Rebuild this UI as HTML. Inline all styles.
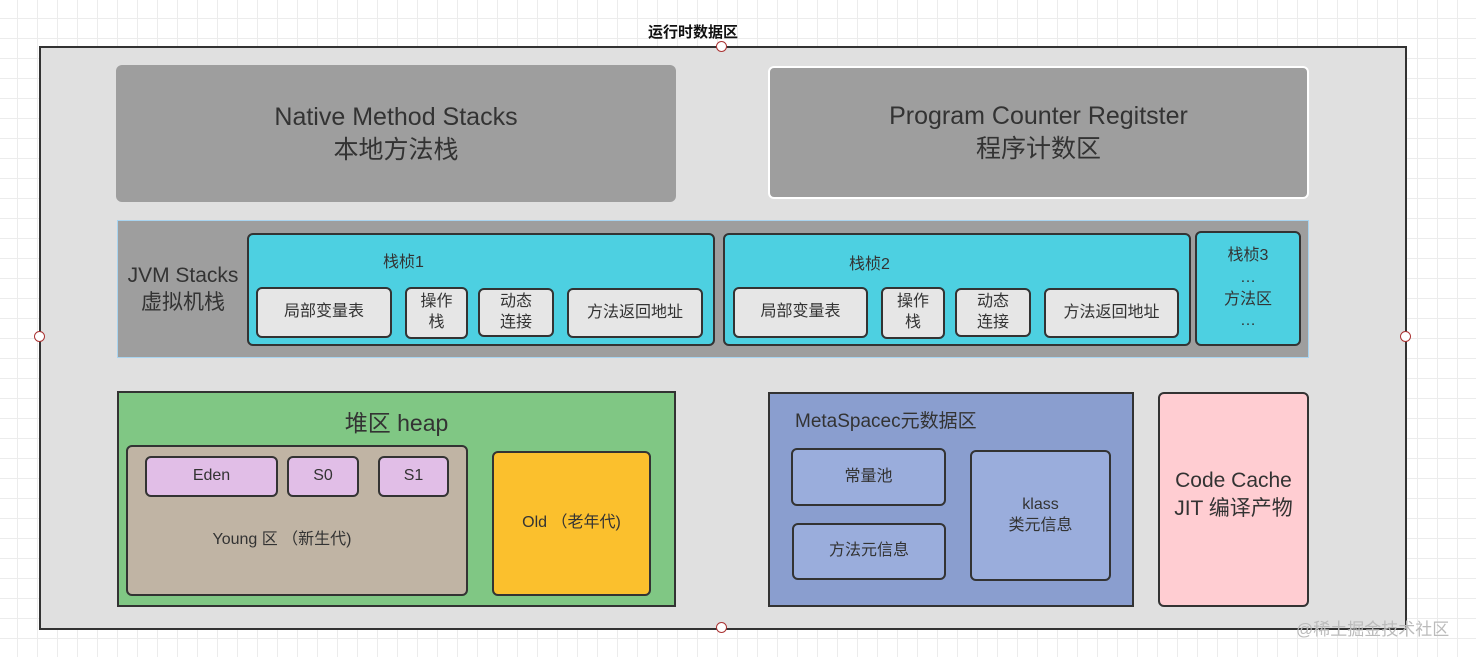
<!DOCTYPE html><html><head><meta charset="utf-8"><style>
body{margin:0;width:1476px;height:657px;overflow:hidden;font-family:"Liberation Sans","Noto Sans CJK SC",sans-serif;color:#333;
background-color:#fff;background-image:linear-gradient(#ececec 1px,transparent 1px),linear-gradient(90deg,#ececec 1px,transparent 1px);background-size:20px 20px;background-position:-3px -2px}
.a{position:absolute;box-sizing:border-box;display:flex;align-items:center;justify-content:center;text-align:center;line-height:1.3}
.b{border:2px solid #333;border-radius:6px}
.g{background:#e6e6e6;font-size:16px}
.c{position:absolute;width:11px;height:11px;border-radius:50%;background:#fff;border:1px solid #a33;box-sizing:border-box}
</style></head><body>
<div class="a" style="left:600px;top:22px;width:186px;height:22px;font-weight:bold;font-size:15px;color:#111">运行时数据区</div>
<div class="a" style="left:39px;top:46px;width:1368px;height:584px;background:#e0e0e0;border:2px solid #333"></div>
<div class="a" style="left:116px;top:65px;width:560px;height:137px;background:#9e9e9e;border-radius:6px;font-size:25px;color:#333">Native Method Stacks<br>本地方法栈</div>
<div class="a" style="left:768px;top:66px;width:541px;height:133px;background:#9e9e9e;border:2px solid #fff;border-radius:6px;font-size:25px;color:#333">Program Counter Regitster<br>程序计数区</div>
<div class="a" style="left:117px;top:220px;width:1192px;height:138px;background:#9e9e9e;border:1px solid #a8d4f0;justify-content:flex-start"><div style="width:130px;font-size:21px;text-align:center">JVM Stacks<br>虚拟机栈</div></div>
<div class="a b" style="left:247px;top:233px;width:468px;height:113px;background:#4dd0e1;align-items:flex-start;padding-top:18px;font-size:16px"><span style="margin-right:155px">栈桢1</span></div>
<div class="a b g" style="left:256px;top:287px;width:136px;height:51px">局部变量表</div>
<div class="a b g" style="left:405px;top:287px;width:63px;height:52px">操作<br>栈</div>
<div class="a b g" style="left:478px;top:288px;width:76px;height:49px">动态<br>连接</div>
<div class="a b g" style="left:567px;top:288px;width:136px;height:50px">方法返回地址</div>
<div class="a b" style="left:723px;top:233px;width:468px;height:113px;background:#4dd0e1;align-items:flex-start;padding-top:20px;font-size:16px"><span style="margin-right:175px">栈桢2</span></div>
<div class="a b g" style="left:733px;top:287px;width:135px;height:51px">局部变量表</div>
<div class="a b g" style="left:881px;top:287px;width:64px;height:52px">操作<br>栈</div>
<div class="a b g" style="left:955px;top:288px;width:76px;height:49px">动态<br>连接</div>
<div class="a b g" style="left:1044px;top:288px;width:135px;height:50px">方法返回地址</div>
<div class="a b" style="left:1195px;top:231px;width:106px;height:115px;background:#4dd0e1;font-size:16px;line-height:1.35">栈桢3<br>…<br>方法区<br>…</div>
<div class="a" style="left:117px;top:391px;width:559px;height:216px;background:#80c784;border:2px solid #333;align-items:flex-start;padding-top:16px;font-size:23px">堆区 heap</div>
<div class="a b" style="left:126px;top:445px;width:342px;height:151px;background:#c0b4a4;font-size:16px;padding-top:40px;padding-right:30px">Young 区 （新生代)</div>
<div class="a b" style="left:145px;top:456px;width:133px;height:41px;background:#e1bee7;font-size:16px">Eden</div>
<div class="a b" style="left:287px;top:456px;width:72px;height:41px;background:#e1bee7;font-size:16px">S0</div>
<div class="a b" style="left:378px;top:456px;width:71px;height:41px;background:#e1bee7;font-size:16px">S1</div>
<div class="a b" style="left:492px;top:451px;width:159px;height:145px;background:#fbc02d;font-size:16px">Old （老年代)</div>
<div class="a" style="left:768px;top:392px;width:366px;height:215px;background:#8a9ecf;border:2px solid #333;align-items:flex-start;justify-content:flex-start;padding:16px 0 0 25px;font-size:19px">MetaSpacec元数据区</div>
<div class="a b" style="left:791px;top:448px;width:155px;height:58px;background:#9aaddc;font-size:16px">常量池</div>
<div class="a b" style="left:792px;top:523px;width:154px;height:57px;background:#9aaddc;font-size:16px">方法元信息</div>
<div class="a b" style="left:970px;top:450px;width:141px;height:131px;background:#9aaddc;font-size:16px">klass<br>类元信息</div>
<div class="a b" style="left:1158px;top:392px;width:151px;height:215px;background:#ffcdd2;font-size:21px;padding-bottom:10px">Code Cache<br>JIT 编译产物</div>
<div class="c" style="left:716px;top:41px"></div>
<div class="c" style="left:34px;top:331px"></div>
<div class="c" style="left:1400px;top:331px"></div>
<div class="c" style="left:716px;top:622px"></div>
<div style="position:absolute;left:1296px;top:615px;font-size:17px;color:#bbb">@稀土掘金技术社区</div>
</body></html>
